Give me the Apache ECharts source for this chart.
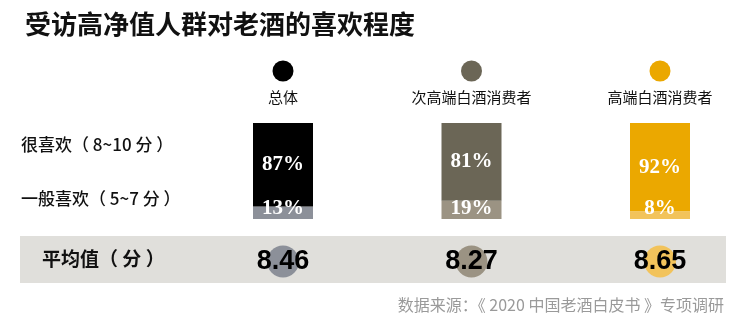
<!DOCTYPE html>
<html>
<head>
<meta charset="utf-8">
<script src="https://cdn.jsdelivr.net/npm/echarts@6/dist/echarts.min.js"></script>
<style>
  html, body { margin: 0; padding: 0; background: #fff; }
  #chart { width: 746px; height: 327px; }
</style>
</head>
<body>
<div id="chart"></div>
<script>
// Groups of respondents
var groups = ['总体', '次高端白酒消费者', '高端白酒消费者'];
// Share who like aged liquor a lot (8~10) and moderately (5~7), in %
var likeMuch = [87, 81, 92];
var likeSome = [13, 19, 8];
// Average liking score per group
var avgScore = [8.46, 8.27, 8.65];
// Row captions
var rowLabels = ['很喜欢（ 8~10 分 ）', '一般喜欢（ 5~7 分 ）'];
var avgLabel = '平均值（ 分 ）';
var sourceNote = '数据来源：《 2020 中国老酒白皮书 》专项调研';

// Palette per group
var mainColors = ['#000000', '#6b6656', '#eba800'];
var lightColors = ['#8c9099', '#9b9383', '#f2c35b'];

var CJK = '"Noto Sans CJK SC", "Noto Sans", sans-serif';
var SERIF = '"Liberation Serif", "DejaVu Serif", serif';

var chart = echarts.init(document.getElementById('chart'), null, { renderer: 'canvas' });

function xAx(gi) {
  return {
    type: 'category', gridIndex: gi, data: groups, boundaryGap: false,
    axisLine: { show: false }, axisTick: { show: false }, axisLabel: { show: false },
    splitLine: { show: false }
  };
}
function yAx(gi, min, max) {
  return {
    type: 'value', gridIndex: gi, min: min, max: max,
    axisLine: { show: false }, axisTick: { show: false }, axisLabel: { show: false },
    splitLine: { show: false }
  };
}

var option = {
  animation: false,
  title: {
    text: '受访高净值人群对老酒的喜欢程度',
    left: 20, top: 6,
    textStyle: { fontFamily: CJK, fontSize: 26, fontWeight: 'bold', color: '#111' }
  },
  grid: [
    { left: 283, right: 86, top: 123, height: 96 },   // bars
    { left: 283, right: 86, top: 60, height: 22 },    // group markers
    { left: 283, right: 86, top: 245, height: 33 }    // averages
  ],
  xAxis: [xAx(0), xAx(1), xAx(2)],
  yAxis: [yAx(0, 0, 100), yAx(1, 0, 1), yAx(2, 0, 1)],
  graphic: [
    { type: 'rect', shape: { x: 20, y: 236, width: 706, height: 47 }, style: { fill: '#e0dfdb' }, z: -1 },
    { type: 'text', left: 21, top: 136, style: { text: rowLabels[0], font: '500 17px ' + CJK, fill: '#111' } },
    { type: 'text', left: 21, top: 190, style: { text: rowLabels[1], font: '500 17px ' + CJK, fill: '#111' } },
    { type: 'text', left: 42, top: 249, style: { text: avgLabel, font: 'bold 19px ' + CJK, fill: '#111' } },
    { type: 'text', right: 22, top: 297, style: { text: sourceNote, font: '16px ' + CJK, fill: '#9a9a9a' } }
  ],
  series: [
    {
      type: 'bar', name: rowLabels[1], stack: 'like', xAxisIndex: 0, yAxisIndex: 0, barWidth: 60,
      data: likeSome.map(function (v, i) { return { value: v, itemStyle: { color: lightColors[i] } }; }),
      label: {
        show: true, position: 'insideBottom', distance: 1, formatter: '{c}%',
        color: '#fff', fontFamily: SERIF, fontWeight: 'bold', fontSize: 21, lineHeight: 18
      }
    },
    {
      type: 'bar', name: rowLabels[0], stack: 'like', xAxisIndex: 0, yAxisIndex: 0, barWidth: 60,
      data: likeMuch.map(function (v, i) { return { value: v, itemStyle: { color: mainColors[i] } }; }),
      label: {
        show: true, position: 'inside', formatter: '{c}%',
        color: '#fff', fontFamily: SERIF, fontWeight: 'bold', fontSize: 21
      }
    },
    {
      type: 'scatter', xAxisIndex: 1, yAxisIndex: 1, symbol: 'circle', symbolSize: 21,
      data: groups.map(function (g, i) { return { value: [g, 0.5], itemStyle: { color: mainColors[i], opacity: 1 } }; }),
      label: {
        show: true, position: 'bottom', distance: 8, formatter: function (p) { return p.value[0]; },
        color: '#111', fontFamily: CJK, fontSize: 15, lineHeight: 16
      }
    },
    {
      type: 'scatter', xAxisIndex: 2, yAxisIndex: 2, symbol: 'circle', symbolSize: 32,
      data: avgScore.map(function (v, i) { return { value: [groups[i], 0.5, v], itemStyle: { color: lightColors[i], opacity: 1 } }; }),
      label: {
        show: true, position: 'inside', formatter: function (p) { return p.value[2].toFixed(2); },
        color: '#000', fontFamily: '"Liberation Sans", Arial, sans-serif', fontWeight: 'bold', fontSize: 27
      }
    }
  ]
};
chart.setOption(option);
</script>
</body>
</html>
